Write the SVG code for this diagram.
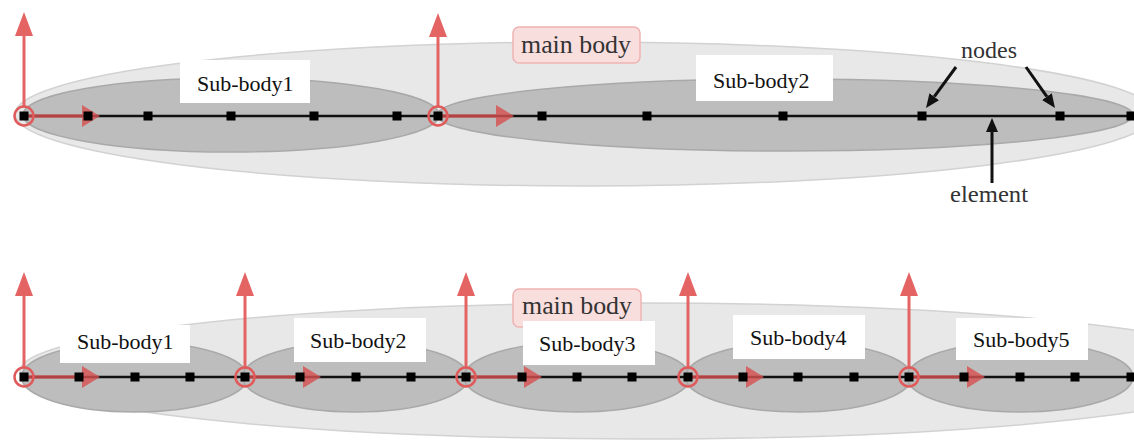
<svg xmlns="http://www.w3.org/2000/svg" width="1134" height="443" viewBox="0 0 1134 443">
<style>
.main{fill:#e8e8e8;stroke:#d2d2d2;stroke-width:1.5}
.sub{fill:#bdbdbd;stroke:#a9a9a9;stroke-width:1.5}
.pink{fill:#f9dede;stroke:#efb2b2;stroke-width:1.5}
.box{fill:#ffffff}
.lbl{font-family:"Liberation Serif","Times New Roman",serif;font-size:22px;fill:#111}
.cm{font-family:"Liberation Serif","Times New Roman",serif;fill:#333}
.axis{stroke:#111;stroke-width:2.5}
.node{fill:#000}
.joint{fill:none;stroke:#e05a5a;stroke-width:2.5}
.up{stroke:#e46464;stroke-width:3;fill:none}
.right{stroke:#d85050;stroke-width:3.5;fill:none;opacity:0.8}
.blk{stroke:#111;stroke-width:3;fill:none}
</style>
<defs>
<marker id="upHead" markerUnits="userSpaceOnUse" viewBox="0 0 24 18" markerWidth="24" markerHeight="18" refX="0" refY="9" orient="auto"><path d="M0,0 L24,9 L0,18 Z" fill="#e46464"/></marker>
<marker id="rightHead" markerUnits="userSpaceOnUse" viewBox="0 0 18 22" markerWidth="18" markerHeight="22" refX="0" refY="11" orient="auto"><path d="M0,0 L18,11 L0,22 Z" fill="#d85050"/></marker>
<marker id="blkHead" markerUnits="userSpaceOnUse" viewBox="0 0 14 12" markerWidth="14" markerHeight="12" refX="0" refY="6" orient="auto"><path d="M0,0 L14,6 L0,12 Z" fill="#111"/></marker>
</defs>

<!-- ===== TOP DIAGRAM ===== -->
<g id="top-main-body">
<ellipse class="main" cx="585" cy="114" rx="570" ry="72"/>
</g>
<g id="top-sub-body1">
<ellipse class="sub" cx="231" cy="115" rx="208" ry="37"/>
<rect class="box" x="180" y="60" width="130" height="43"/>
<text class="lbl" x="197" y="91">Sub-body1</text>
</g>
<g id="top-sub-body2">
<ellipse class="sub" cx="785" cy="115" rx="348" ry="36"/>
<rect class="box" x="696" y="55" width="137" height="46"/>
<text class="lbl" x="713" y="88">Sub-body2</text>
</g>
<g id="top-main-label">
<rect class="pink" x="513" y="27" width="127" height="36" rx="6"/>
<text class="cm" x="576" y="53" font-size="25" text-anchor="middle" textLength="110" lengthAdjust="spacingAndGlyphs">main body</text>
</g>
<g id="top-labels">
<text class="cm" x="989" y="58" font-size="24" text-anchor="middle">nodes</text>
<text class="cm" x="989" y="202" font-size="24" text-anchor="middle" textLength="78" lengthAdjust="spacingAndGlyphs">element</text>
</g>

<!-- ===== BOTTOM DIAGRAM ===== -->
<g id="bottom-main-body">
<ellipse class="main" cx="640" cy="371" rx="620" ry="68"/>
</g>
<g id="bottom-sub-bodies">
<ellipse class="sub" cx="134.5" cy="377" rx="113" ry="35"/>
<ellipse class="sub" cx="355.5" cy="377" rx="113" ry="35"/>
<ellipse class="sub" cx="577" cy="377" rx="113" ry="35"/>
<ellipse class="sub" cx="798.5" cy="377" rx="113" ry="35"/>
<ellipse class="sub" cx="1020" cy="377" rx="113" ry="35"/>
</g>
<g id="bottom-main-label">
<rect class="pink" x="513" y="289" width="128" height="38" rx="6"/>
<text class="cm" x="577" y="314" font-size="25" text-anchor="middle" textLength="110" lengthAdjust="spacingAndGlyphs">main body</text>
</g>
<g id="bottom-sub-body1">
<rect class="box" x="60" y="325" width="130" height="38"/>
<text class="lbl" x="77" y="349">Sub-body1</text>
</g>
<g id="bottom-sub-body2">
<rect class="box" x="294" y="318" width="132" height="44"/>
<text class="lbl" x="310" y="348">Sub-body2</text>
</g>
<g id="bottom-sub-body3">
<rect class="box" x="523" y="321" width="132" height="44"/>
<text class="lbl" x="539" y="351">Sub-body3</text>
</g>
<g id="bottom-sub-body4">
<rect class="box" x="733" y="315" width="132" height="44"/>
<text class="lbl" x="750" y="345">Sub-body4</text>
</g>
<g id="bottom-sub-body5">
<rect class="box" x="956" y="318" width="132" height="42"/>
<text class="lbl" x="973" y="347">Sub-body5</text>
</g>

<!-- ===== AXES (elements) ===== -->
<g id="axes">
<line class="axis" x1="24" y1="116" x2="1134" y2="116"/>
<line class="axis" x1="24" y1="377" x2="1134" y2="377"/>
</g>

<!-- ===== CONNECTORS ===== -->
<g id="connectors">
<line class="up" x1="24" y1="107" x2="24" y2="36" marker-end="url(#upHead)"/>
<line class="up" x1="438" y1="107" x2="438" y2="37" marker-end="url(#upHead)"/>
<line class="right" x1="24" y1="116" x2="82" y2="116" marker-end="url(#rightHead)"/>
<line class="right" x1="438" y1="116" x2="496" y2="116" marker-end="url(#rightHead)"/>
<line class="blk" x1="956" y1="67" x2="934.3" y2="96.7" marker-end="url(#blkHead)"/>
<line class="blk" x1="1026" y1="67" x2="1046.9" y2="96.6" marker-end="url(#blkHead)"/>
<line class="blk" x1="992" y1="183" x2="992" y2="132" marker-end="url(#blkHead)"/>

<line class="up" x1="24" y1="368" x2="24" y2="296" marker-end="url(#upHead)"/>
<line class="up" x1="245" y1="368" x2="245" y2="296" marker-end="url(#upHead)"/>
<line class="up" x1="466" y1="368" x2="466" y2="296" marker-end="url(#upHead)"/>
<line class="up" x1="688" y1="368" x2="688" y2="296" marker-end="url(#upHead)"/>
<line class="up" x1="909" y1="368" x2="909" y2="296" marker-end="url(#upHead)"/>
<line class="right" x1="24" y1="377" x2="82" y2="377" marker-end="url(#rightHead)"/>
<line class="right" x1="245" y1="377" x2="303" y2="377" marker-end="url(#rightHead)"/>
<line class="right" x1="466" y1="377" x2="524" y2="377" marker-end="url(#rightHead)"/>
<line class="right" x1="688" y1="377" x2="746" y2="377" marker-end="url(#rightHead)"/>
<line class="right" x1="909" y1="377" x2="967" y2="377" marker-end="url(#rightHead)"/>
</g>

<!-- ===== NODES ===== -->
<g id="top-nodes">
<g class="node">
<rect x="19.5" y="111.5" width="9" height="9"/>
<rect x="83.5" y="111.5" width="9" height="9"/>
<rect x="143.5" y="111.5" width="9" height="9"/>
<rect x="226.5" y="111.5" width="9" height="9"/>
<rect x="309.5" y="111.5" width="9" height="9"/>
<rect x="392.5" y="111.5" width="9" height="9"/>
<rect x="433.5" y="111.5" width="9" height="9"/>
<rect x="537.5" y="111.5" width="9" height="9"/>
<rect x="642.5" y="111.5" width="9" height="9"/>
<rect x="778.5" y="111.5" width="9" height="9"/>
<rect x="917.5" y="111.5" width="9" height="9"/>
<rect x="1055.5" y="111.5" width="9" height="9"/>
<rect x="1126.5" y="111.5" width="9" height="9"/>
</g>
<circle class="joint" cx="24" cy="116" r="9.5"/>
<circle class="joint" cx="438" cy="116" r="9.5"/>
</g>
<g id="bottom-nodes">
<g class="node">
<rect x="19.5" y="372.5" width="9" height="9"/>
<rect x="74.5" y="372.5" width="9" height="9"/>
<rect x="130.5" y="372.5" width="9" height="9"/>
<rect x="185.5" y="372.5" width="9" height="9"/>
<rect x="240.5" y="372.5" width="9" height="9"/>
<rect x="295.5" y="372.5" width="9" height="9"/>
<rect x="351.5" y="372.5" width="9" height="9"/>
<rect x="406.5" y="372.5" width="9" height="9"/>
<rect x="461.5" y="372.5" width="9" height="9"/>
<rect x="517.5" y="372.5" width="9" height="9"/>
<rect x="572.5" y="372.5" width="9" height="9"/>
<rect x="627.5" y="372.5" width="9" height="9"/>
<rect x="683.5" y="372.5" width="9" height="9"/>
<rect x="738.5" y="372.5" width="9" height="9"/>
<rect x="793.5" y="372.5" width="9" height="9"/>
<rect x="849.5" y="372.5" width="9" height="9"/>
<rect x="904.5" y="372.5" width="9" height="9"/>
<rect x="959.5" y="372.5" width="9" height="9"/>
<rect x="1015.5" y="372.5" width="9" height="9"/>
<rect x="1070.5" y="372.5" width="9" height="9"/>
<rect x="1126.5" y="372.5" width="9" height="9"/>
</g>
<circle class="joint" cx="24" cy="377" r="9.5"/>
<circle class="joint" cx="245" cy="377" r="9.5"/>
<circle class="joint" cx="466" cy="377" r="9.5"/>
<circle class="joint" cx="688" cy="377" r="9.5"/>
<circle class="joint" cx="909" cy="377" r="9.5"/>
</g>
</svg>
